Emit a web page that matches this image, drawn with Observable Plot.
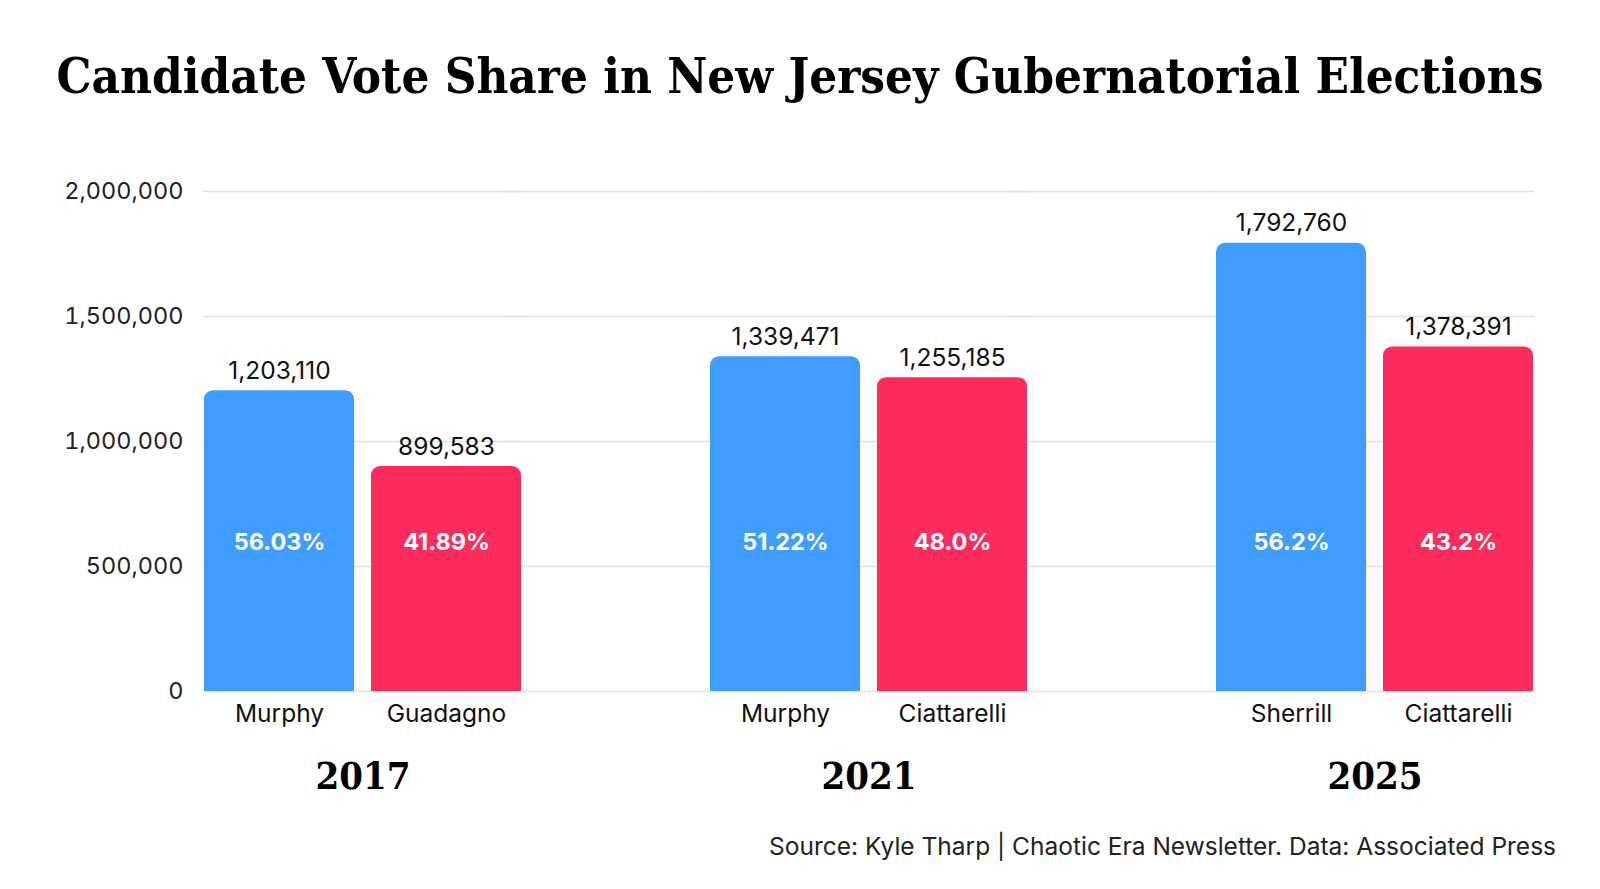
<!DOCTYPE html>
<html>
<head>
<meta charset="utf-8">
<script src="https://cdn.jsdelivr.net/npm/d3@7"></script>
<script src="https://cdn.jsdelivr.net/npm/@observablehq/plot@0.6"></script>
<style>
  html, body { margin: 0; padding: 0; background: #fff; }
  body { width: 1600px; height: 889px; position: relative; overflow: hidden; font-family: Inter, "Noto Sans", sans-serif; }
  #title { position: absolute; left: 0; top: 0; width: 1600px; height: 153px; text-align: center; white-space: nowrap;
    font-family: "DejaVu Serif Condensed", "DejaVu Serif", serif; font-stretch: condensed; font-weight: bold; font-size: 49px; line-height: 153px; color: #000; }
  #title span { display: inline-block; }
  #chart { position: absolute; left: 0; top: 150px; }
  #caption { position: absolute; right: 44px; top: 831px; font-size: 24.5px; color: #222; line-height: 30px; white-space: nowrap; }
</style>
</head>
<body>
<div id="title"><span id="titletext">Candidate Vote Share in New Jersey Gubernatorial Elections</span></div>
<div id="chart"></div>
<div id="caption">Source: Kyle Tharp | Chaotic Era Newsletter. Data: Associated Press</div>
<script>
const years = ["2017", "2017", "2021", "2021", "2025", "2025"];
const candidates = ["Murphy", "Guadagno", "Murphy", "Ciattarelli", "Sherrill", "Ciattarelli"];
const parties = ["D", "R", "D", "R", "D", "R"];
const votes = [1203110, 899583, 1339471, 1255185, 1792760, 1378391];
const shares = ["56.03%", "41.89%", "51.22%", "48.0%", "56.2%", "43.2%"];
const yTicks = [0, 500000, 1000000, 1500000, 2000000];
const yearOrder = ["2017", "2021", "2025"];

const data = years.map((y, i) => ({year: y, candidate: candidates[i], party: parties[i], votes: votes[i], share: shares[i]}));
// grid continuation across the gaps between year groups
const gapGrid = yearOrder.slice(0, -1).flatMap(y => yTicks.map(v => ({year: y, v})));
const fmt = d3.format(",");

const chart = Plot.plot({
  width: 1600,
  height: 660,
  marginTop: 41,
  marginBottom: 119,
  marginLeft: 202,
  marginRight: 66,
  style: {fontFamily: "Inter, sans-serif", background: "#fff"},
  fx: {domain: yearOrder, paddingInner: 0.37, paddingOuter: 0, axis: null, label: null},
  x: {domain: ["D", "R"], paddingInner: 0.101, paddingOuter: 0, axis: null, label: null},
  y: {domain: [0, 2000000], axis: null, label: null},
  color: {domain: ["D", "R"], range: ["#409CFF", "#FC2C5C"]},
  marks: [
    Plot.ruleY(yTicks, {stroke: "#e2e2e2", strokeWidth: 1.3}),
    Plot.ruleY(gapGrid, {fx: "year", y: "v", insetLeft: 300, insetRight: -188, stroke: "#e2e2e2", strokeWidth: 1.3}),
    Plot.axisY({ticks: yTicks, tickSize: 0, tickPadding: 20, tickFormat: fmt, fontSize: 23.5, fill: "#222", label: null}),
    Plot.barY(data, {fx: "year", x: "party", y: "votes", fill: "party", ry1: 9}),
    Plot.text(data, {fx: "year", x: "party", y: "votes", text: d => fmt(d.votes), lineAnchor: "bottom", dy: -12, fontSize: 24.5, fill: "#111"}),
    Plot.text(data, {fx: "year", x: "party", text: "share", frameAnchor: "bottom", lineAnchor: "middle", dy: -149, fontSize: 23.5, fontWeight: "bold", fill: "#fff"}),
    Plot.text(data, {fx: "year", x: "party", text: "candidate", frameAnchor: "bottom", lineAnchor: "top", dy: 13.5, fontSize: 24.5, fill: "#111"}),
    Plot.axisFx({anchor: "bottom", tickSize: 0, tickPadding: 71, fontSize: 38, fontWeight: "bold", fontFamily: "DejaVu Serif Condensed, DejaVu Serif, serif", fill: "#000", label: null})
  ]
});
document.getElementById("chart").appendChild(chart);

// fit title to reference width
const t = document.getElementById("titletext");
const w = t.getBoundingClientRect().width;
const fs = parseFloat(getComputedStyle(t).fontSize);
document.getElementById("title").style.fontSize = (fs * 1487 / w) + "px";
</script>
</body>
</html>
